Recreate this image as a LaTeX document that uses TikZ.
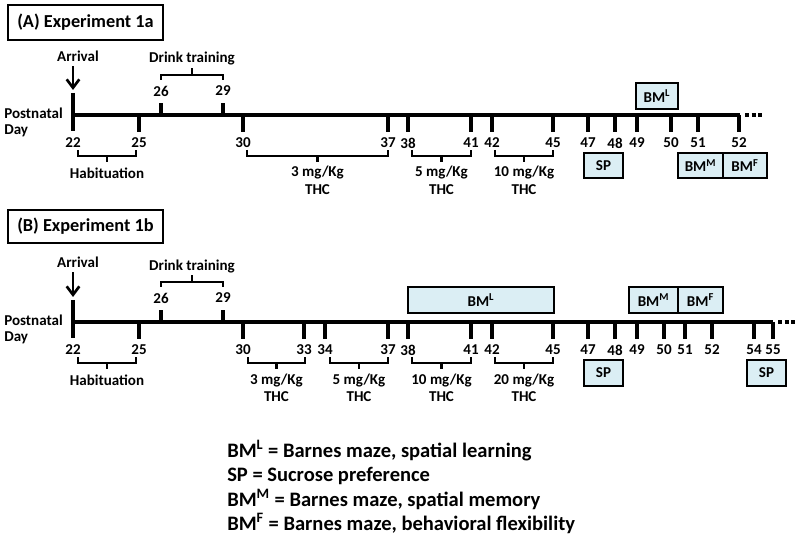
\documentclass[tikz,border=0pt]{standalone}
\usepackage{fontspec}
\setmainfont{Carlito}
\usetikzlibrary{arrows.meta}
\definecolor{boxblue}{RGB}{219,238,244}
\newcommand{\lblfont}{\bfseries\fontsize{10.7}{12.8}\selectfont}
\newcommand{\titlefont}{\bfseries\fontsize{13}{15.6}\selectfont}
\newcommand{\bigfont}{\bfseries\fontsize{14.6}{17.5}\selectfont}
\newcommand{\downbrk}[4]
{
	\draw[brk] (#1,35) -- (#1,41) -- (#2,41) -- (#2,35);
	\draw[brk] ({(#1+#2)/2},41) -- ({(#1+#2)/2},47);
	\node (#3) at ({(#1+#2)/2},58) {#4};
}
\newcommand{\dosebrk}[4]
{
	\downbrk{#1}{#2}{#3}{#4 mg/Kg}
	\node (#3thc) at ({(#1+#2)/2},75) {THC};
}
\newcommand{\evbox}[6]
{
	\draw[evbox] (#2,#3) rectangle (#4,#5);
	\node (#1) at ({(#2+#4)/2},{(#3+#5)/2}) {#6};
}

\begin{document}
\begin{tikzpicture}[x=0.025cm,y=-0.025cm,
	every node/.style={font=\lblfont},
	axis/.style={line width=2.6pt},
	tick/.style={line width=2.6pt},
	brk/.style={line width=1.8pt},
	evbox/.style={draw,line width=1.8pt,fill=boxblue},
	arr/.style={line width=1.9pt,-{Straight Barb[length=6pt,width=9pt,line width=1.9pt]}},
	dots/.style={line width=3pt,dash pattern=on 3pt off 1.7pt}]
	\useasboundingbox (0,0) rectangle (800,536);

	% (A) Experiment 1a
	\begin{scope}[shift={(0,115)}]
	\draw[line width=1.8pt] (8,-110) rectangle (163,-75);
	\node[font=\titlefont,anchor=west,inner sep=0pt] (aTitle) at (17,-93) {(A) Experiment 1a};
	\node[anchor=west,inner sep=0pt] (aPost) at (4,-2) {Postnatal};
	\node[anchor=west,inner sep=0pt] (aDay) at (4,16) {Day};
	\node (aArrival) at (78,-59) {Arrival};
	\coordinate (aTip) at (73,-25);
	\draw[arr] (aArrival.south -| aTip) -- (aTip);
	\draw[axis] (73,0) -- (740,0);
	\draw[dots] (745,0) -- (763,0);
	\draw[tick] (73,-22) -- (73,16);
	\node (a22) at (73,28) {22};
	\foreach \x/\d in {139/25,243/30,388/37,408/38,471/41,492/42,553/45,588/47,615/48,637/49,671/50,698/51,739/52}
	{
		\draw[tick] (\x,0) -- (\x,17);
		\node (a\d) at (\x,28) {\d};
	}
	\foreach \x/\d in {161/26,223/29}
	{
		\draw[tick] (\x,0) -- (\x,-12);
		\node (a\d) at (\x,-24) {\d};
	}
	\draw[brk] (161,-35) -- (161,-40) -- (223,-40) -- (223,-35);
	\draw[brk] (192,-40) -- (192,-47);
	\node (aDrink) at (192,-56) {Drink training};
	\downbrk{78}{136}{aHab}{Habituation}
	\dosebrk{247}{388}{aD3}{3}
	\dosebrk{412}{471}{aD5}{5}
	\dosebrk{495}{553}{aD10}{10}
	\evbox{aBML}{636}{-32}{678}{-6}{BM\textsuperscript{L}}
	\evbox{aSP}{584}{38}{623}{63}{SP}
	\evbox{aBMM}{678}{38}{723}{63}{BM\textsuperscript{M}}
	\evbox{aBMF}{723}{38}{767}{63}{BM\textsuperscript{F}}
	\end{scope}

	% (B) Experiment 1b
	\begin{scope}[shift={(0,322)}]
	\draw[line width=1.8pt] (8,-112) rectangle (163,-79);
	\node[font=\titlefont,anchor=west,inner sep=0pt] (bTitle) at (17,-96) {(B) Experiment 1b};
	\node[anchor=west,inner sep=0pt] (bPost) at (4,-2) {Postnatal};
	\node[anchor=west,inner sep=0pt] (bDay) at (4,16) {Day};
	\node (bArrival) at (78,-60) {Arrival};
	\coordinate (bTip) at (73,-25);
	\draw[arr] (bArrival.south -| bTip) -- (bTip);
	\draw[axis] (73,0) -- (773,0);
	\draw[dots] (778,0) -- (796,0);
	\draw[tick] (73,-22) -- (73,16);
	\node (b22) at (73,28) {22};
	\foreach \x/\d in {139/25,243/30,304/33,325/34,388/37,408/38,471/41,492/42,553/45,588/47,615/48,637/49,664/50,685/51,712/52,754/54,773/55}
	{
		\draw[tick] (\x,0) -- (\x,17);
		\node (b\d) at (\x,28) {\d};
	}
	\foreach \x/\d in {161/26,223/29}
	{
		\draw[tick] (\x,0) -- (\x,-12);
		\node (b\d) at (\x,-24) {\d};
	}
	\draw[brk] (161,-35) -- (161,-40) -- (223,-40) -- (223,-35);
	\draw[brk] (192,-40) -- (192,-47);
	\node (bDrink) at (192,-56) {Drink training};
	\downbrk{78}{136}{bHab}{Habituation}
	\dosebrk{248}{305}{bD3}{3}
	\dosebrk{330}{388}{bD5}{5}
	\dosebrk{412}{471}{bD10}{10}
	\dosebrk{495}{553}{bD20}{20}
	\evbox{bBML}{408}{-35}{554}{-9}{BM\textsuperscript{L}}
	\evbox{bBMM}{629}{-35}{678}{-9}{BM\textsuperscript{M}}
	\evbox{bBMF}{678}{-35}{723}{-9}{BM\textsuperscript{F}}
	\evbox{bSP}{584}{38}{623}{64}{SP}
	\evbox{bSPb}{747}{38}{786}{64}{SP}
	\end{scope}

	% legend
	\node[font=\bigfont,anchor=base west,inner sep=0pt] (lgL) at (227,457) {BM\textsuperscript{L} = Barnes maze, spatial learning};
	\node[font=\bigfont,anchor=base west,inner sep=0pt] (lgSP) at (227,481) {SP = Sucrose preference};
	\node[font=\bigfont,anchor=base west,inner sep=0pt] (lgM) at (227,506) {BM\textsuperscript{M} = Barnes maze, spatial memory};
	\node[font=\bigfont,anchor=base west,inner sep=0pt] (lgF) at (227,530) {BM\textsuperscript{F} = Barnes maze, behavioral flexibility};
\end{tikzpicture}
\end{document}
